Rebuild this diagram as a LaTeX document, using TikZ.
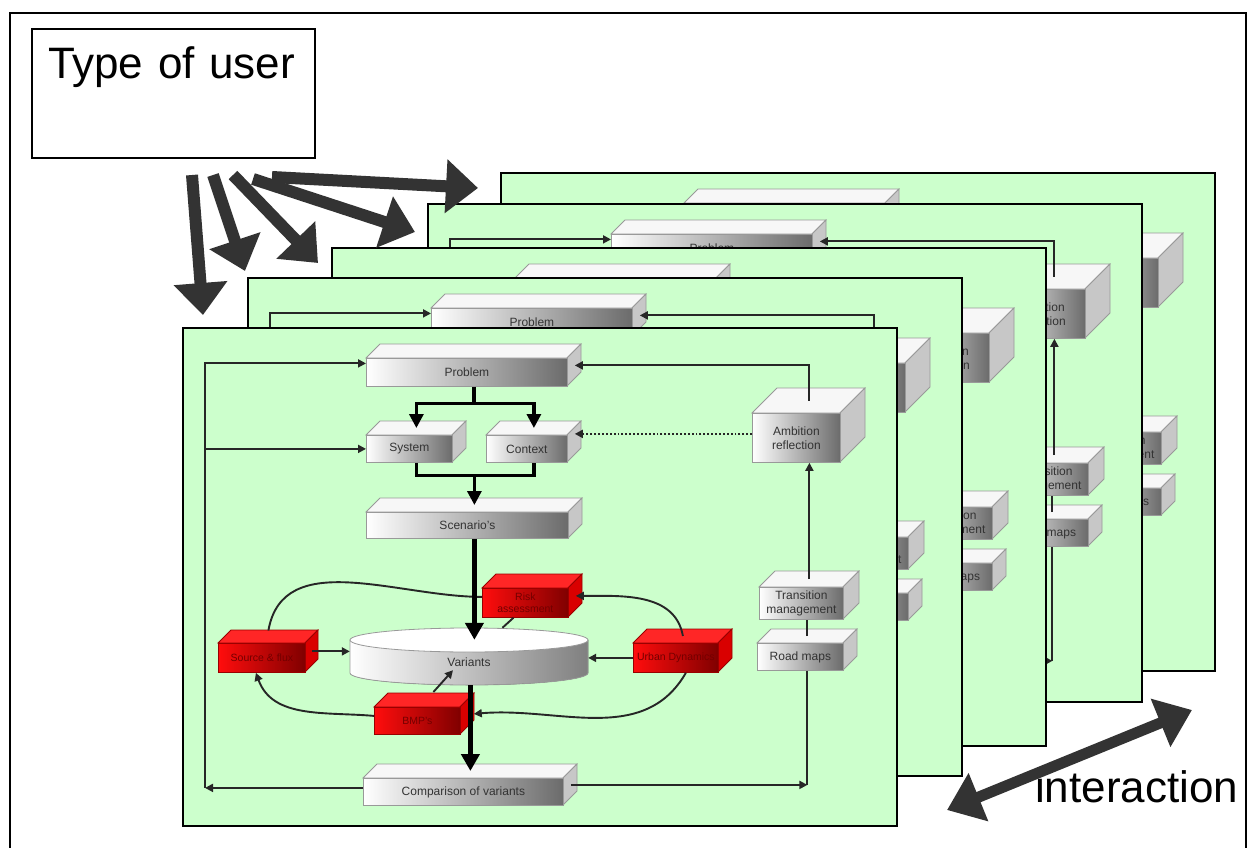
\documentclass[tikz,border=0pt]{standalone}
\usepackage{fontspec}
\setmainfont{Liberation Sans}
\usetikzlibrary{arrows.meta,calc}
\definecolor{slidegreen}{RGB}{204,255,204}
\definecolor{arrowgrey}{RGB}{51,51,51}
\tikzstyle{slidebg} = [rectangle, draw=black, line width=2pt, fill=slidegreen,
    inner sep=0pt, minimum width=714pt, minimum height=498pt, anchor=north west]
\tikzstyle{userbox} = [rectangle, draw=black, line width=2pt, fill=white, anchor=north west,
    text width=251pt, align=left, inner xsep=16pt, inner ysep=0pt,
    text height=50pt, text depth=79pt, font=\fontsize{44}{50}\selectfont]
\tikzstyle{bigtext} = [inner sep=0pt, font=\fontsize{44}{50}\selectfont]
\tikzstyle{boxtop} = [draw=black!40, line width=0.8pt, fill=black!3]
\tikzstyle{boxside} = [draw=black!40, line width=0.8pt, fill=black!22]
\tikzstyle{boxfront} = [rectangle, draw=black!40, line width=0.8pt, left color=white,
    right color=black!58, inner sep=0pt, text=black!80, align=center,
    font=\fontsize{12}{14}\selectfont, anchor=north west]
\tikzstyle{redtop} = [draw=red!60!black, line width=0.8pt, fill=red!85!white]
\tikzstyle{redside} = [draw=red!60!black, line width=0.8pt, fill=red!85!black]
\tikzstyle{redfront} = [rectangle, draw=red!60!black, line width=0.8pt, left color=red!95!white,
    right color=red!50!black, inner sep=0pt, text=red!45!black, align=center,
    font=\fontsize{10.5}{12}\selectfont, anchor=north west]
\tikzstyle{cylbody} = [draw=black!40, line width=0.8pt, left color=white, right color=black!50]
\tikzstyle{cyltop} = [draw=black!40, line width=0.8pt, fill=white]
\tikzstyle{varnode} = [rectangle, inner sep=0pt, minimum width=238pt, minimum height=45pt,
    text=black!80, font=\fontsize{12}{14}\selectfont]
\tikzstyle{link} = [draw=black!85, line width=1.9pt]
\tikzstyle{linkarrow} = [link, -{Triangle[length=8pt,width=8pt]}]
\tikzstyle{dotarrow} = [linkarrow, dotted, line width=2pt]
\tikzstyle{thicklink} = [draw=black, line width=3.2pt]
\tikzstyle{thickarrow} = [thicklink, -{Triangle[length=14pt,width=14pt]}]
\tikzstyle{heavyarrow} = [draw=black, line width=5pt, -{Triangle[length=17pt,width=18pt]}]
\tikzstyle{bigarrow} = [draw=arrowgrey, line width=12pt, -{Triangle[length=32pt,width=52pt]}]
\tikzstyle{twoway} = [draw=arrowgrey, line width=11pt,
    {Triangle[length=34pt,width=50pt]}-{Triangle[length=34pt,width=50pt]}]

% 3d block: name, left, top, width, height, depth, kind (box/red), text
\newcommand{\blockbox}[8]{%
    \filldraw[#7top] (#2,#3) -- ++(#6,#6) -- ++(#4,0) -- ++(-#6,-#6) -- cycle;
    \filldraw[#7side] (#2+#4,#3) -- ++(#6,#6) -- ++(0,-#5) -- ++(-#6,-#6) -- cycle;
    \node[#7front, minimum width=#4pt, minimum height=#5pt] (#1) at (#2,#3) {#8};
    \coordinate (#1top) at ($(#1.north)+(#6/2,#6/2)$);
    \coordinate (#1side) at ($(#1.east)+(#6/2,#6/2)$);
}

% one slide of the stack: prefix, x, y
\newcommand{\drawslide}[3]{%
\begin{scope}[shift={(#2,#3)}, name prefix=#1-]
    \node[slidebg] (frame) at (0,0) {};

    \blockbox{prob}{184}{-31}{201}{28}{14}{box}{Problem}
    \blockbox{sys}{184}{-108}{86}{27}{14}{box}{System}
    \blockbox{ctx}{304}{-108}{81}{27}{14}{box}{Context}
    \blockbox{scen}{184}{-185}{202}{26}{14}{box}{Scenario's}
    \blockbox{risk}{300}{-261}{86}{29}{14}{red}{Risk\\assessment}
    \blockbox{src}{36}{-316}{87}{29}{13}{red}{Source \& flux}
    \blockbox{bmp}{192}{-380}{86}{27}{14}{red}{BMP's}
    \blockbox{urb}{451}{-316}{85}{29}{14}{red}{Urban Dynamics}
    \blockbox{cmp}{181}{-451}{200}{27}{14}{box}{Comparison of variants}
    \blockbox{amb}{570}{-86}{88}{49}{25}{box}{Ambition\\reflection}
    \blockbox{trans}{577}{-260}{84}{32}{16}{box}{Transition\\management}
    \blockbox{roads}{575}{-316}{86}{27}{14}{box}{Road maps}

    % variants cylinder
    \filldraw[cylbody] (168,-313) -- (168,-346)
        arc[start angle=180, end angle=360, x radius=119, y radius=12] -- (406,-313) -- cycle;
    \filldraw[cyltop] (287,-313) ellipse[x radius=119, y radius=12];
    \node[varnode] (var) at (287,-335.5) {Variants};

    % loop on the left
    \draw[linkarrow] ([yshift=4pt]cmp.west) -- ++(-158,0) coordinate (loop);
    \draw[linkarrow] (loop) |- ([yshift=9pt]prob.west);
    \draw[linkarrow] (loop |- sys.west) -- (sys.west);

    % problem -> system, context -> scenario's
    \draw[thicklink] (prob.south -| probtop) -- ++(0,-17) coordinate (split);
    \draw[thickarrow] (split) -| (systop);
    \draw[thickarrow] (split) -| (ctxtop);
    \draw[thicklink] (sys.south -| systop) -- ++(0,-13) coordinate (merge) -| (ctx.south -| ctxtop);
    \draw[thickarrow] (scentop |- merge) -- (scentop);

    % ring round the variants
    \draw[link] ([yshift=6pt]risk.west) to[out=180,in=80] ([yshift=6pt]srctop);
    \draw[linkarrow] (urbtop) to[out=100,in=0] (riskside);
    \draw[linkarrow] ([yshift=5pt]bmp.west) to[out=175,in=-70] ([xshift=-6pt]src.south);
    \draw[linkarrow] ([xshift=10pt]urb.south) to[out=-120,in=5] ([xshift=6pt]bmpside);

    % into the variants
    \draw[linkarrow] (srcside) -- (var.west |- srcside);
    \draw[linkarrow] (urb.west) -- (var.east |- urb.west);
    \draw[link] ([xshift=-12pt]risk.south) -- ++(-11,-10);
    \draw[linkarrow] ([xshift=9pt,yshift=8pt]bmptop) -- ([xshift=-16pt,yshift=15pt]var.south);
    \draw[heavyarrow] (scen.south -| scentop) -- (scentop |- var.north);
    \draw[heavyarrow] (cmptop |- var.south) -- (cmptop);

    % right-hand column
    \draw[linkarrow] (cmpside) -- (cmpside -| roadstop);
    \draw[link] (roads.south -| roadstop) -- (cmpside -| roadstop);
    \draw[link] (roadstop) -- (trans.south -| roadstop);
    \draw[linkarrow] (transtop) -- (amb.south -| transtop);
    \draw[linkarrow] (ambtop) |- (probside);
    \coordinate (dot) at ([yshift=4pt]amb.west);
    \draw[dotarrow] (dot) -- (dot -| ctxside);
\end{scope}}

\begin{document}
\begin{tikzpicture}[x=1pt, y=1pt]
    \useasboundingbox (0,0) rectangle (1248,-848);
    \draw[line width=2.5pt] (10,-13) rectangle (1246,-870);

    \node[userbox] (user) at (31,-28) {Type of user};

    % stack of slides, back to front
    \drawslide{s5}{500}{-172}
    \drawslide{s4}{427}{-203}
    \drawslide{s3}{331}{-247}
    \drawslide{s2}{247}{-277}
    \drawslide{s1}{182}{-327}

    \draw[bigarrow] ([shift={(161,-16)}]user.south west) -- ([shift={(21,12)}]s1-frame.north west);
    \draw[bigarrow] ([shift={(182,-16)}]user.south west) -- ([shift={(-2,6)}]s2-frame.north west);
    \draw[bigarrow] ([shift={(202,-16)}]user.south west) -- ([shift={(-13,-16)}]s3-frame.north west);
    \draw[bigarrow] ([shift={(222,-20)}]user.south west) -- ([shift={(-12,-29)}]s4-frame.north west);
    \draw[bigarrow] ([shift={(241,-18)}]user.south west) -- ([shift={(-22,-16)}]s5-frame.north west);

    \node[bigtext, anchor=base west] (inter) at (1035,-802) {interaction};
    \coordinate (interA) at (947,-810);
    \coordinate (interB) at (1192,-710);
    \draw[twoway] (interA) -- (interB);
\end{tikzpicture}
\end{document}
